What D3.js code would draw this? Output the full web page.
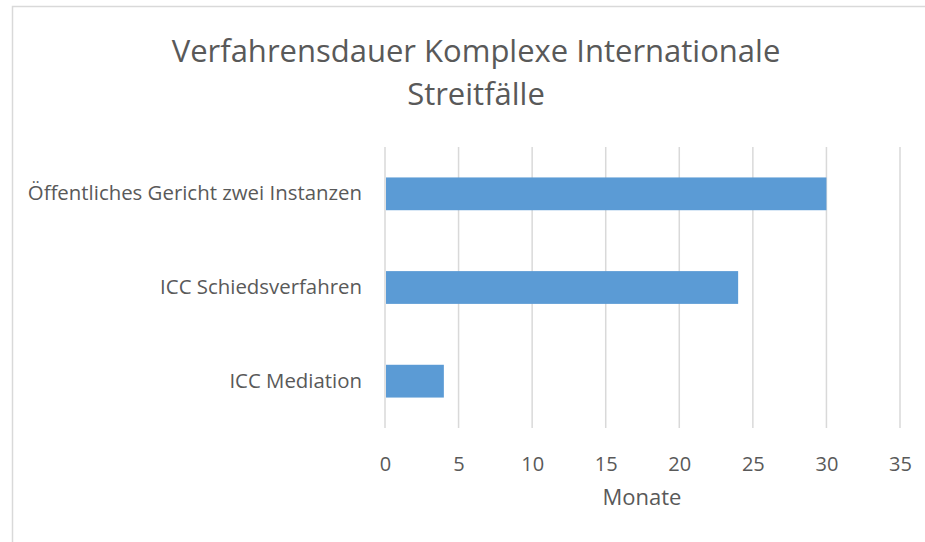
<!DOCTYPE html>
<html>
<head>
<meta charset="utf-8">
<script src="https://cdn.jsdelivr.net/npm/d3@7"></script>
<style>
  body { margin: 0; background: #fff; }
  text { font-family: "Open Sans", sans-serif; fill: #595959; }
</style>
</head>
<body>
<svg id="chart" width="925" height="542"></svg>
<script>
// data
var categories = ["Öffentliches Gericht zwei Instanzen", "ICC Schiedsverfahren", "ICC Mediation"];
var values = [30, 24, 4];
var xTicks = [0, 5, 10, 15, 20, 25, 30, 35];
var titleLines = ["Verfahrensdauer Komplexe Internationale", "Streitfälle"];
var xLabel = "Monate";

var svg = d3.select("#chart");

// outer chart border
svg.append("rect")
    .attr("x", 12.5).attr("y", 6.5)
    .attr("width", 930).attr("height", 560)
    .attr("fill", "none")
    .attr("stroke", "#d9d9d9")
    .attr("stroke-width", 1.5);

var plotLeft = 385, plotRight = 900, plotTop = 147, plotBottom = 428;

var x = d3.scaleLinear().domain([0, 35]).range([plotLeft, plotRight]);
var y = d3.scaleBand().domain(categories).range([plotTop, plotBottom]).paddingInner(0.65).paddingOuter(0.325);

// gridlines
svg.append("g")
  .selectAll("line")
  .data(xTicks)
  .enter().append("line")
    .attr("x1", function(d) { return x(d); })
    .attr("x2", function(d) { return x(d); })
    .attr("y1", plotTop)
    .attr("y2", plotBottom)
    .attr("stroke", "#d9d9d9")
    .attr("stroke-width", 1.5);

// bars
svg.append("g")
  .selectAll("rect")
  .data(values)
  .enter().append("rect")
    .attr("x", x(0) + 1)
    .attr("y", function(d, i) { return y(categories[i]); })
    .attr("width", function(d) { return x(d) - x(0) - 1; })
    .attr("height", y.bandwidth())
    .attr("fill", "#5b9bd5");

// x axis labels
var xAxis = svg.append("g")
    .attr("transform", "translate(0," + (plotBottom + 6) + ")")
    .call(d3.axisBottom(x).tickValues(xTicks).tickSize(0).tickPadding(23));
xAxis.select(".domain").remove();
xAxis.selectAll("text")
    .style("font-size", "20px")
    .style("font-family", "'Open Sans', sans-serif")
    .attr("fill", "#595959");

// category labels
var yAxis = svg.append("g")
    .attr("transform", "translate(" + (plotLeft - 23) + ",0)")
    .call(d3.axisLeft(y).tickSize(0).tickPadding(0));
yAxis.select(".domain").remove();
yAxis.selectAll("text")
    .style("font-size", "20.4px")
    .style("font-family", "'Open Sans', sans-serif")
    .attr("fill", "#595959");

// title
svg.append("g")
  .selectAll("text")
  .data(titleLines)
  .enter().append("text")
    .attr("x", 476)
    .attr("y", function(d, i) { return 62 + i * 43; })
    .attr("text-anchor", "middle")
    .style("font-size", "31px")
    .text(function(d) { return d; });

// axis title
svg.append("text")
    .attr("x", 642)
    .attr("y", 505)
    .attr("text-anchor", "middle")
    .style("font-size", "22px")
    .text(xLabel);
</script>
</body>
</html>
